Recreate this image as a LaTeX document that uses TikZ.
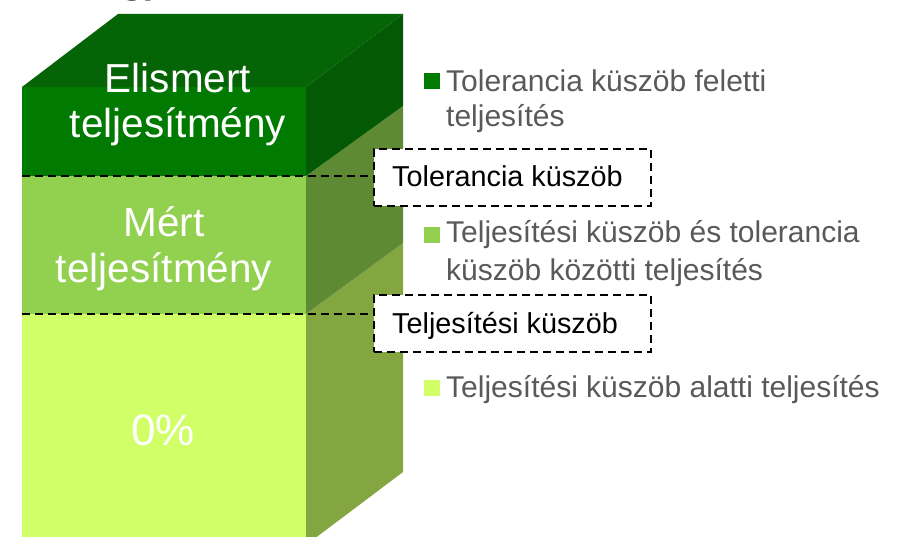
\documentclass[tikz,border=0pt]{standalone}
\usepackage{fontspec}
\setmainfont{Liberation Sans}
\definecolor{topface}{HTML}{056405}
\definecolor{topfront}{HTML}{007A00}
\definecolor{topside}{HTML}{045A04}
\definecolor{midfront}{HTML}{92D050}
\definecolor{midside}{HTML}{5E8A33}
\definecolor{botfront}{HTML}{D0FF68}
\definecolor{botside}{HTML}{84A640}
\definecolor{leggray}{HTML}{595959}
\definecolor{titlegray}{HTML}{404040}
\tikzset{
  blocklabel/.style={text=white, font=\fontsize{40.5}{45}\selectfont, inner sep=0pt, anchor=base},
  legtext/.style={text=leggray, font=\fontsize{30}{35}\selectfont, inner sep=0pt, anchor=base west},
  legsq/.style={minimum size=16pt, inner sep=0pt, draw=none},
  threshbox/.style={draw=black, line width=1.8pt, dash pattern=on 8pt off 5pt, fill=white,
     minimum width=277pt, minimum height=57pt, inner sep=0pt},
  threshtext/.style={text=black, font=\fontsize{28.8}{34}\selectfont, inner sep=0pt, anchor=base west},
  threshline/.style={draw=black, line width=1.8pt, dash pattern=on 8pt off 5pt}
}
\begin{document}
\begin{tikzpicture}[x=1pt,y=-1pt]
\useasboundingbox (0,0) rectangle (915,537);
% cut-off title fragment
\node[text=titlegray, font=\bfseries\fontsize{37}{40}\selectfont, inner sep=0pt, anchor=base west] (title) at (121,-6) {gy};
% bottom layer
\fill[botfront] (22,314) rectangle (306,560);
\fill[botside] (306,314) -- (403,243) -- (403,472) -- (306,545) -- cycle;
% middle layer
\fill[midfront] (22,176) rectangle (306,314);
\fill[midside] (306,176) -- (403,106) -- (403,243) -- (306,314) -- cycle;
% top layer
\fill[topfront] (22,87) rectangle (306,176);
\fill[topside] (306,87) -- (403,14) -- (403,106) -- (306,176) -- cycle;
\fill[topface] (22,87) -- (118,14) -- (403,14) -- (306,87) -- cycle;
% block labels
\node[blocklabel] (el1) at (178,93) {Elismert};
\node[blocklabel] (el2) at (178,138) {teljesítmény};
\node[blocklabel] (me1) at (164,237) {Mért};
\node[blocklabel] (me2) at (164,283) {teljesítmény};
\node[blocklabel, font=\fontsize{44}{48}\selectfont] (zero) at (163,445) {0\%};
% threshold boxes and lines
\coordinate (tolstart) at (22,176);
\coordinate (teljstart) at (22,314);
\node[threshbox, anchor=north west] (tolbox) at (373,148) {};
\node[threshbox, anchor=north west] (teljbox) at (373,294) {};
\draw[threshline] (tolstart) -- (tolstart -| tolbox.west);
\draw[threshline] (teljstart) -- (teljstart -| teljbox.west);
\node[threshtext] (toltext) at (392,187) {Tolerancia küszöb};
\node[threshtext] (teljtext) at (392,333) {Teljesítési küszöb};
% legend
\node[legsq, fill=topfront] (sq1) at (432,81) {};
\node[legtext] (l1a) at (446,92) {Tolerancia küszöb feletti};
\node[legtext] (l1b) at (446,127) {teljesítés};
\node[legsq, fill=midfront] (sq2) at (432,235) {};
\node[legtext] (l2a) at (446,243) {Teljesítési küszöb és tolerancia};
\node[legtext] (l2b) at (446,280) {küszöb közötti teljesítés};
\node[legsq, fill=botfront] (sq3) at (432,388) {};
\node[legtext] (l3a) at (446,397) {Teljesítési küszöb alatti teljesítés};
\end{tikzpicture}
\end{document}
